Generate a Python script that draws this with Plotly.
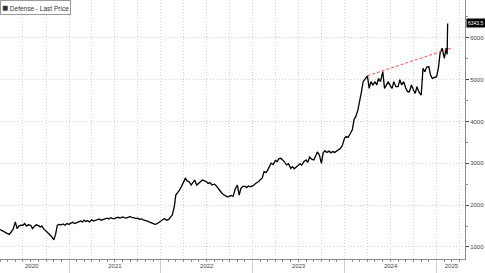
import plotly.graph_objects as go

# ---- data ----
# four readings per month (1st, 8th, 15th, 23rd), April 2020 .. January 2025
months = [f"{y}-{m:02d}" for y in range(2020, 2026) for m in range(1, 13)]
months = months[months.index("2020-04"):months.index("2025-01") + 1]
days = ["01", "08", "15", "23"]
monthly_prices = [
    [1416, 1390, 1360, 1330],  # 2020-04
    [1320, 1300, 1360, 1420],
    [1600, 1440, 1500, 1520],
    [1520, 1560, 1500, 1530],
    [1520, 1440, 1490, 1530],
    [1510, 1480, 1500, 1420],
    [1380, 1350, 1300, 1250],
    [1170, 1300, 1520, 1540],
    [1530, 1550, 1520, 1560],
    [1540, 1570, 1590, 1560],  # 2021-01
    [1580, 1600, 1620, 1600],
    [1640, 1610, 1630, 1600],
    [1650, 1620, 1640, 1660],
    [1670, 1640, 1660, 1680],
    [1690, 1670, 1700, 1680],
    [1680, 1700, 1710, 1690],
    [1720, 1700, 1690, 1710],
    [1730, 1700, 1700, 1680],
    [1690, 1660, 1670, 1650],
    [1640, 1620, 1600, 1580],
    [1560, 1540, 1550, 1580],
    [1620, 1660, 1680, 1640],  # 2022-01
    [1660, 1720, 1760, 1960],
    [2240, 2300, 2350, 2440],
    [2550, 2640, 2580, 2560],
    [2480, 2540, 2600, 2480],
    [2520, 2560, 2600, 2580],
    [2560, 2520, 2540, 2480],
    [2500, 2470, 2400, 2350],
    [2280, 2240, 2220, 2200],
    [2210, 2230, 2210, 2380],
    [2480, 2240, 2400, 2450],
    [2450, 2420, 2460, 2440],
    [2460, 2500, 2530, 2560],  # 2023-01
    [2600, 2650, 2800, 2780],
    [2830, 2900, 3000, 2970],
    [3070, 3040, 3110, 3120],
    [3080, 3030, 2960, 2990],
    [2880, 2920, 2870, 2920],
    [2950, 2990, 2960, 3040],
    [3080, 3020, 3150, 3100],
    [3080, 3200, 3270, 3200],
    [3000, 3250, 3300, 3260],
    [3290, 3250, 3280, 3260],
    [3300, 3320, 3350, 3420],
    [3600, 3640, 3620, 3700],  # 2024-01
    [3800, 4050, 4120, 4270],
    [4450, 4700, 4950, 5030],
    [5090, 4790, 4950, 4870],
    [4950, 4870, 5030, 4950],
    [5190, 4790, 4870, 4950],
    [4850, 4790, 4950, 4830],
    [4830, 5000, 4870, 4950],
    [4790, 4710, 4710, 4870],
    [4750, 4670, 4830, 4700],
    [4630, 5270, 5190, 5300],
    [5310, 5110, 5030, 5050],
    [5070, 5270, 5630, 5750],  # 2025-01
]
tail_dates = ["2025-02-01", "2025-02-08", "2025-02-12", "2025-02-14"]
tail_prices = [5510, 5750, 5600, 6343]
last_price = 6343.5

trend_dates = ["2024-04-01", "2025-02-27"]
trend_values = [5090, 5750]

year_label_dates = ["2020-08-05", "2021-07-02", "2022-07-02", "2023-07-02", "2024-07-02", "2025-03-01"]
year_labels = ["2020", "2021", "2022", "2023", "2024", "2025"]
year_bounds = ["2021-01-01", "2022-01-01", "2023-01-01", "2024-01-01", "2025-01-01"]
quarter_ticks = [f"{y}-{m:02d}-01" for y in range(2020, 2026) for m in (1, 4, 7, 10)]
y_ticks = [1000, 2000, 3000, 4000, 5000, 6000]

x_range = ["2020-04-01", "2025-04-24"]
y_range = [713, 6902]

dates = [f"{m}-{d}" for m in months for d in days] + tail_dates
prices = [p for row in monthly_prices for p in row] + tail_prices

FONT = "Liberation Sans, Arial, sans-serif"
GRID = "#d2d2d2"
AXIS = "#8c8c8c"

fig = go.Figure()
fig.add_trace(go.Scatter(x=dates, y=prices, mode="lines",
                         line=dict(color="black", width=1.3), showlegend=False,
                         hoverinfo="skip"))
fig.add_trace(go.Scatter(x=trend_dates, y=trend_values, mode="lines",
                         line=dict(color="#ff4b4b", width=1, dash="3px,2px"),
                         showlegend=False, hoverinfo="skip"))

fig.update_layout(
    width=485, height=273,
    margin=dict(l=0, r=20, t=0, b=14),
    paper_bgcolor="white", plot_bgcolor="white",
    font=dict(family=FONT, size=6, color="#444"),
    xaxis=dict(
        range=x_range, type="date",
        tickmode="array", tickvals=quarter_ticks, showticklabels=False,
        showgrid=True, gridcolor=GRID, griddash="1px,2px", gridwidth=1,
        ticks="outside", ticklen=2, tickcolor=AXIS,
        minor=dict(dtick="M1", tick0="2020-01-01", ticks="outside", ticklen=2,
                   tickcolor=AXIS, showgrid=False),
        showline=True, linecolor=AXIS, linewidth=1, zeroline=False,
    ),
    xaxis2=dict(
        range=x_range, type="date", overlaying="x", anchor="y", side="bottom",
        tickmode="array", tickvals=year_label_dates, ticktext=year_labels,
        ticks="", showgrid=False, showline=False, zeroline=False,
        tickfont=dict(size=6, color="#444"), ticklabelstandoff=2,
    ),
    xaxis3=dict(
        range=x_range, type="date", overlaying="x", anchor="y", side="bottom",
        tickmode="array", tickvals=year_bounds, showticklabels=False,
        ticks="outside", ticklen=14, tickcolor="#d0d0d0", tickwidth=1,
        showgrid=False, showline=False, zeroline=False,
    ),
    yaxis=dict(
        range=y_range, side="right",
        tickmode="array", tickvals=y_ticks,
        showgrid=True, gridcolor=GRID, griddash="1px,2px", gridwidth=1,
        ticks="outside", ticklen=3, tickcolor="#444",
        minor=dict(dtick=500, tick0=0, ticks="outside", ticklen=2, tickcolor=AXIS,
                   showgrid=False),
        showline=True, linecolor=AXIS, linewidth=1, zeroline=False,
        tickfont=dict(size=6, color="#444"),
    ),
)

# invisible traces to activate the overlay axes
fig.add_trace(go.Scatter(x=[dates[0]], y=[prices[0]], xaxis="x2", mode="markers",
                         marker=dict(opacity=0), showlegend=False, hoverinfo="skip"))
fig.add_trace(go.Scatter(x=[dates[0]], y=[prices[0]], xaxis="x3", mode="markers",
                         marker=dict(opacity=0), showlegend=False, hoverinfo="skip"))

# legend box
fig.add_annotation(
    xref="paper", yref="paper", x=0, y=1, xanchor="left", yanchor="top",
    text="<span style='font-size:10px'>■</span> Defense - Last Price",
    showarrow=False, font=dict(size=6.5, color="#333", family=FONT),
    bgcolor="white", bordercolor="#999", borderwidth=1, borderpad=1,
)
# last price tag
fig.add_annotation(
    xref="paper", yref="y", x=1, y=last_price, xanchor="left", yanchor="middle",
    xshift=1, text=f"{last_price:.1f}", showarrow=False,
    font=dict(size=5, color="white", family=FONT),
    bgcolor="black", borderpad=1,
)

fig.write_html("out.html", config={"displayModeBar": False})
